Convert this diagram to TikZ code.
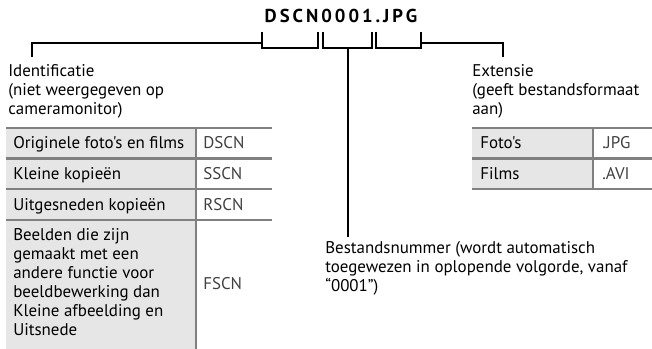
\documentclass[tikz,border=0pt]{standalone}
\usepackage{fontspec}
\setmainfont{PT Sans}[Ligatures=TeXOff]
\usetikzlibrary{positioning,calc}

\definecolor{cellgray}{HTML}{E6E6E6}
\definecolor{rulegray}{HTML}{808080}
\tikzset{
  txt/.style={font=\fontsize{12.7}{14.25}\selectfont,inner sep=0pt,anchor=base west,align=left},
  code/.style={txt,text=black!75},
  rule/.style={draw=rulegray,line width=1.8pt},
  brace/.style={draw=black,line width=1.4pt}
}

\begin{document}
\begin{tikzpicture}[x=0.75pt,y=-0.75pt]
  \useasboundingbox (0,0) rectangle (652,349);

  % bestandsnaam
  \node[font=\fontsize{14}{15}\selectfont\bfseries\addfontfeature{LetterSpace=16},inner sep=0pt,anchor=base] (naam) at (341,22.5) {DSCN0001.JPG};

  % haken onder de naam
  \coordinate (h1l) at (262,32); \coordinate (h1r) at (318,32);
  \coordinate (h2l) at (323,32); \coordinate (h2r) at (372,32);
  \coordinate (h3l) at (376,32); \coordinate (h3r) at (421,32);
  \draw[brace] (h1l) -- ++(0,16) -| (h1r);
  \draw[brace] (h2l) -- ++(0,16) -| (h2r);
  \draw[brace] (h3l) -- ++(0,16) -| (h3r);
  \coordinate (h2m) at (348,48);

  % labels (base = laatste regel)
  \node[txt] (ident) at (8,115) {Identificatie\\(niet weergegeven op\\cameramonitor)};
  \node[txt] (ext) at (472,115) {Extensie\\(geeft bestandsformaat\\aan)};
  \node[txt] (nummer) at (325,291) {Bestandsnummer (wordt automatisch\\toegewezen in oplopende volgorde, vanaf\\“0001”)};
  \coordinate (ident-top) at (32,57);
  \coordinate (ext-top) at (503,57);
  \coordinate (nummer-top) at (348,237);

  \draw[brace] (ident-top) |- (h1l |- 0,43);
  \draw[brace] (h3r |- 0,43) -| (ext-top);
  \draw[brace] (h2m) -- (nummer-top);

  % tabel links
  \fill[cellgray] (6,128) rectangle (196,349);
  \draw[rule] (196,128) -- (196,349);
  \foreach \y in {128,158.5,189,220}
    \draw[rule] (6,\y) -- (272,\y);
  \node[txt] (org) at (13,148) {Originele foto's en films};
  \node[txt] (klein) at (13,179) {Kleine kopieën};
  \node[txt] (uit) at (13,210) {Uitgesneden kopieën};
  \node[txt] (beeld) at (13,335) {Beelden die zijn\\gemaakt met een\\andere functie voor\\beeldbewerking dan\\Kleine afbeelding en\\Uitsnede};
  \node[code] (dscn) at (203,148) {DSCN};
  \node[code] (sscn) at (203,179) {SSCN};
  \node[code] (rscn) at (203,210) {RSCN};
  \node[code] (fscn) at (203,289) {FSCN};

  % tabel rechts
  \fill[cellgray] (472,128) rectangle (593,189);
  \draw[rule] (593,128) -- (593,189);
  \foreach \y in {128,158.5,189}
    \draw[rule] (472,\y) -- (652,\y);
  \node[txt] (foto) at (480,148) {Foto's};
  \node[txt] (film) at (480,179) {Films};
  \node[code] (jpg) at (602,148) {.JPG};
  \node[code] (avi) at (602,179) {.AVI};
\end{tikzpicture}
\end{document}
